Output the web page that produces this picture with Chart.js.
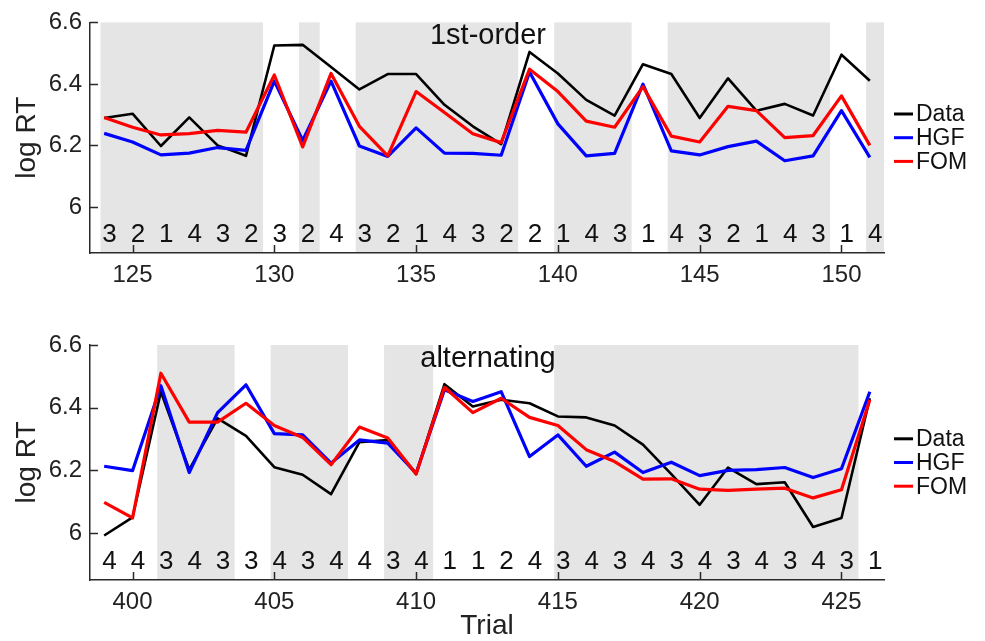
<!DOCTYPE html>
<html><head><meta charset="utf-8">
<script src="https://cdn.jsdelivr.net/npm/chart.js@4.4.1/dist/chart.umd.min.js"></script>
<style>
html,body{margin:0;padding:0;background:#fff;width:985px;height:641px;overflow:hidden}
#c1{position:absolute;left:0;top:0}
#c2{position:absolute;left:0;top:300px}
</style></head><body>
<canvas id="c1" width="985" height="300"></canvas>
<canvas id="c2" width="985" height="341"></canvas>
<script>
const seriesNames = ['Data', 'HGF', 'FOM'];
const seriesColors = ['#000000', '#0000ff', '#ff0000'];

// ---- top panel: 1st-order ----
const topTitle = '1st-order';
const topTrials = [124,125,126,127,128,129,130,131,132,133,134,135,136,137,138,139,140,141,142,143,144,145,146,147,148,149,150,151];
const topData = [6.289,6.303,6.198,6.291,6.200,6.166,6.525,6.527,6.455,6.382,6.432,6.432,6.332,6.262,6.204,6.504,6.434,6.348,6.297,6.464,6.432,6.289,6.418,6.313,6.335,6.297,6.495,6.410];
const topHGF  = [6.239,6.211,6.169,6.175,6.193,6.184,6.409,6.216,6.409,6.198,6.164,6.257,6.175,6.174,6.168,6.439,6.270,6.166,6.174,6.399,6.182,6.169,6.196,6.214,6.150,6.166,6.313,6.161];
const topFOM  = [6.291,6.259,6.234,6.238,6.249,6.243,6.429,6.195,6.434,6.262,6.166,6.375,6.307,6.238,6.209,6.448,6.375,6.279,6.259,6.391,6.230,6.211,6.327,6.313,6.225,6.232,6.361,6.200];
const topStimuli = ['3','2','1','4','3','2','3','2','4','3','2','1','4','3','2','2','1','4','3','1','4','3','2','1','4','3','1','4'];
const topGreyRuns = [[124,129],[131,131],[133,138],[140,142],[144,149],[151,151]];
const topXTicks = [125,130,135,140,145,150];
const topXRange = [123.5, 151.5];

// ---- bottom panel: alternating ----
const bottomTitle = 'alternating';
const bottomTrials = [399,400,401,402,403,404,405,406,407,408,409,410,411,412,413,414,415,416,417,418,419,420,421,422,423,424,425,426];
const bottomData = [5.992,6.050,6.451,6.202,6.366,6.310,6.210,6.186,6.124,6.290,6.297,6.188,6.475,6.404,6.425,6.414,6.372,6.369,6.343,6.282,6.188,6.090,6.209,6.156,6.162,6.019,6.048,6.430];
const bottomHGF  = [6.213,6.199,6.470,6.193,6.384,6.473,6.317,6.313,6.223,6.297,6.287,6.191,6.457,6.420,6.451,6.244,6.313,6.213,6.258,6.193,6.226,6.183,6.200,6.202,6.209,6.177,6.205,6.451];
const bottomFOM  = [6.098,6.048,6.510,6.354,6.354,6.414,6.343,6.305,6.218,6.338,6.303,6.188,6.465,6.384,6.430,6.369,6.343,6.266,6.228,6.172,6.173,6.140,6.136,6.140,6.143,6.112,6.138,6.425];
const bottomStimuli = ['4','4','3','4','3','3','4','3','4','4','3','4','1','1','2','4','3','4','3','4','3','4','3','4','3','4','3','1'];
const bottomGreyRuns = [[401,403],[405,407],[409,410],[415,425]];
const bottomXTicks = [400,405,410,415,420,425];
const bottomXRange = [398.5, 426.5];

// ---- shared axis ----
const yRange = [5.85, 6.6];
const yTickValues = [6, 6.2, 6.4, 6.6];
const yTickLabels = ['6', '6.2', '6.4', '6.6'];
const yTitle = 'log RT';
const xTitle = 'Trial';

const FONT = '"Liberation Sans", Arial, Helvetica, sans-serif';
const AXIS_COLOR = '#2a2a2a';
const GREY = '#e5e5e5';

const panelPlugin = {
  id: 'panelDecor',
  beforeDraw(chart) {
    const cfg = chart.options.plugins.panelDecor;
    const {ctx, chartArea: a, scales: {x}} = chart;
    ctx.save();
    ctx.fillStyle = GREY;
    cfg.greyRuns.forEach(([s, e]) => {
      let x0 = x.getPixelForValue(s - 0.13);
      let x1 = x.getPixelForValue(e + 0.6);
      x0 = Math.max(x0, a.left + 1);
      x1 = Math.min(x1, a.right);
      ctx.fillRect(x0, a.top, x1 - x0, a.bottom - a.top - 1);
    });
    ctx.restore();
  },
  afterDraw(chart) {
    const cfg = chart.options.plugins.panelDecor;
    const {ctx, chartArea: a, scales: {x, y}} = chart;
    ctx.save();
    // inward tick marks
    ctx.strokeStyle = AXIS_COLOR;
    ctx.lineWidth = 1.5;
    ctx.beginPath();
    cfg.xTicks.forEach(v => {
      const px = Math.round(x.getPixelForValue(v)) + 0.5;
      ctx.moveTo(px, a.bottom); ctx.lineTo(px, a.bottom - 8);
    });
    yTickValues.forEach(v => {
      const py = Math.round(y.getPixelForValue(v)) + 0.5;
      ctx.moveTo(a.left, py); ctx.lineTo(a.left + 8, py);
    });
    ctx.stroke();
    // stimulus digits
    ctx.fillStyle = '#111';
    ctx.font = '26px ' + FONT;
    ctx.textAlign = 'center';
    ctx.textBaseline = 'alphabetic';
    cfg.trials.forEach((t, i) => {
      ctx.fillText(cfg.stimuli[i], x.getPixelForValue(t + 0.19), a.bottom - 11.5);
    });
    // panel title
    ctx.font = '29px ' + FONT;
    ctx.fillText(cfg.title, (a.left + a.right) / 2 + 1, a.top + 22);
    // legend
    const mid = (a.top + a.bottom) / 2;
    ctx.font = '23px ' + FONT;
    ctx.textAlign = 'left';
    ctx.textBaseline = 'middle';
    chart.data.datasets.forEach((ds, i) => {
      const ly = mid + (i - 1) * 23.7;
      ctx.strokeStyle = ds.borderColor;
      ctx.lineWidth = 3;
      ctx.beginPath();
      ctx.moveTo(a.right + 10, ly); ctx.lineTo(a.right + 29, ly);
      ctx.stroke();
      ctx.fillStyle = '#111';
      ctx.fillText(ds.label, a.right + 32, ly + 1);
    });
    ctx.restore();
  }
};

function makeChart(id, trials, series, stimuli, greyRuns, xTicks, xRange, title, padTop, xHeight, showXTitle) {
  const datasets = series.map((vals, i) => ({
    label: seriesNames[i],
    data: trials.map((t, j) => ({x: t, y: vals[j]})),
    borderColor: seriesColors[i],
    backgroundColor: seriesColors[i],
    borderWidth: i === 0 ? 2.6 : 3.2,
    pointRadius: 0,
    tension: 0,
    fill: false,
    borderJoinStyle: 'round',
    order: 2 - i
  }));
  return new Chart(document.getElementById(id), {
    type: 'line',
    data: {datasets},
    plugins: [panelPlugin],
    options: {
      responsive: false,
      animation: false,
      devicePixelRatio: 1,
      layout: {padding: {top: padTop, right: 101, left: 0, bottom: 0}},
      plugins: {
        legend: {display: false},
        tooltip: {enabled: false},
        panelDecor: {trials, stimuli, greyRuns, xTicks, title}
      },
      scales: {
        x: {
          type: 'linear',
          min: xRange[0], max: xRange[1],
          offset: false,
          grid: {display: false, drawTicks: false},
          border: {display: true, color: AXIS_COLOR, width: 1.5},
          afterBuildTicks: s => { s.ticks = xTicks.map(v => ({value: v})); },
          afterFit: s => { s.height = xHeight; },
          ticks: {
            autoSkip: false, maxRotation: 0, padding: 8,
            color: '#222', font: {family: FONT, size: 24},
            callback: v => String(v)
          },
          title: {
            display: showXTitle, text: xTitle, color: '#222',
            font: {family: FONT, size: 28}, padding: {top: 0, bottom: -2}
          }
        },
        y: {
          type: 'linear',
          min: yRange[0], max: yRange[1],
          grid: {display: false, drawTicks: false},
          border: {display: true, color: AXIS_COLOR, width: 1.5},
          afterBuildTicks: s => { s.ticks = yTickValues.map(v => ({value: v})); },
          afterFit: s => { s.width = 90; },
          ticks: {
            padding: 8, color: '#222', font: {family: FONT, size: 24},
            callback: (v, i) => yTickLabels[i]
          },
          title: {
            display: true, text: yTitle, color: '#222',
            font: {family: FONT, size: 28}, padding: {top: 10, bottom: 0}
          }
        }
      }
    }
  });
}

makeChart('c1', topTrials, [topData, topHGF, topFOM], topStimuli, topGreyRuns, topXTicks, topXRange, topTitle, 20, 47, false);
makeChart('c2', bottomTrials, [bottomData, bottomHGF, bottomFOM], bottomStimuli, bottomGreyRuns, bottomXTicks, bottomXRange, bottomTitle, 45, 61, true);
</script>
</body></html>
